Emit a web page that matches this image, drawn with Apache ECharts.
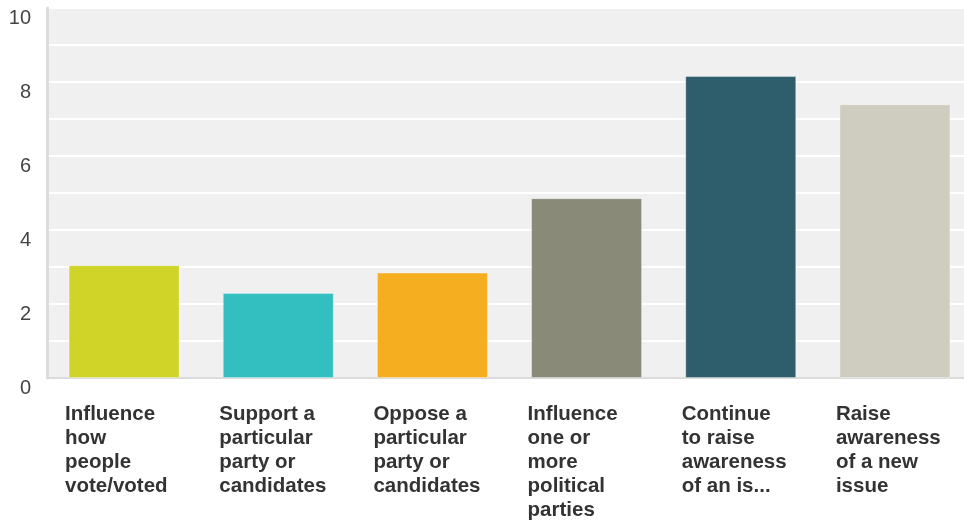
<!DOCTYPE html>
<html>
<head>
<meta charset="utf-8">
<script src="https://cdn.jsdelivr.net/npm/echarts@6/dist/echarts.min.js"></script>
<style>
  html, body { margin: 0; padding: 0; background: #fff; overflow: hidden; }
  #chart { width: 972px; height: 521px; }
</style>
</head>
<body>
<div id="chart"></div>
<script>
  // Données
  const categories = [
    'Influence\nhow\npeople\nvote/voted',
    'Support a\nparticular\nparty or\ncandidates',
    'Oppose a\nparticular\nparty or\ncandidates',
    'Influence\none or\nmore\npolitical\nparties',
    'Continue\nto raise\nawareness\nof an is...',
    'Raise\nawareness\nof a new\nissue'
  ];
  const values = [3.05, 2.3, 2.85, 4.86, 8.16, 7.4];
  const barColors = ['#d0d428', '#33bec0', '#f5ae1f', '#8a8a78', '#2e5e6b', '#cfcdbf'];
  const yTicks = [0, 2, 4, 6, 8, 10];

  const chart = echarts.init(document.getElementById('chart'));

  const option = {
    animation: false,
    grid: {
      left: 47, right: 0, top: 8, bottom: 143,
      show: true, backgroundColor: '#f0f0f0', borderWidth: 0
    },
    xAxis: {
      type: 'category',
      data: categories,
      axisTick: { show: false },
      axisLine: { lineStyle: { color: '#dcdcdc', width: 2 } },
      axisLabel: {
        interval: 0,
        margin: 24,
        align: 'center',
        formatter: v => v.split('\n').map(l => '{a|' + l + '}').join('\n'),
        rich: {
          a: {
            width: 118,
            align: 'left',
            fontFamily: 'Liberation Sans, Arial, sans-serif',
            fontWeight: 'bold',
            fontSize: 20.5,
            lineHeight: 24,
            color: '#333'
          }
        }
      }
    },
    yAxis: {
      type: 'value',
      min: 0, max: 10, interval: 1,
      axisLine: { show: true, lineStyle: { color: '#dcdcdc', width: 3 } },
      axisTick: { show: false },
      splitLine: { lineStyle: { color: '#ffffff', width: 2 } },
      axisLabel: {
        margin: 16,
        verticalAlign: 'top',
        fontFamily: 'Liberation Sans, Arial, sans-serif',
        fontSize: 20,
        color: '#444',
        formatter: v => (yTicks.includes(v) ? String(v) : '')
      }
    },
    series: [{
      type: 'bar',
      barWidth: 111,
      data: values.map((v, i) => ({
        value: v,
        itemStyle: {
          color: barColors[i],
          borderColor: 'rgba(255,255,255,0.35)',
          borderWidth: 1
        }
      }))
    }]
  };

  chart.setOption(option);
</script>
</body>
</html>
